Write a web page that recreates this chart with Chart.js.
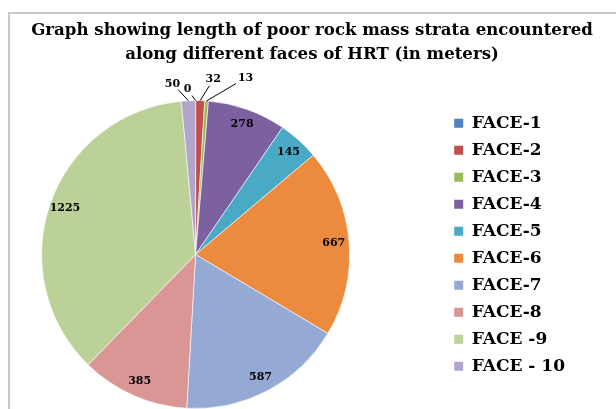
<!DOCTYPE html>
<html>
<head>
<meta charset="utf-8">
<script src="https://cdn.jsdelivr.net/npm/chart.js@4/dist/chart.umd.min.js"></script>
<style>
  html, body { margin: 0; padding: 0; background: #fff; overflow: hidden; }
  canvas { display: block; }
</style>
</head>
<body>
<canvas id="chart" width="616" height="409"></canvas>
<script>
// Faces of the head race tunnel and the poor rock mass length met at each (m)
const faces = ['FACE-1', 'FACE-2', 'FACE-3', 'FACE-4', 'FACE-5', 'FACE-6', 'FACE-7', 'FACE-8', 'FACE -9', 'FACE - 10'];
const lengths = [0, 32, 13, 278, 145, 667, 587, 385, 1225, 50];
const faceColors = ['#4f81bd', '#c0504d', '#9bbb59', '#7d60a0', '#4aa9c4', '#ec8b3d',
                    '#95a9d5', '#d99694', '#bcd197', '#b1a5cc'];
const titleLines = ['Graph showing length of poor rock mass strata encountered',
                    'along different faces of HRT (in meters)'];

// Thin slices get their value outside the pie with a leader line (offset of text from rim)
const calloutOffsets = { 0: [-8, -11], 1: [13, -21], 2: [39, -23], 9: [-16, -17] };

// Grey outline of the chart object (its right and bottom sides run off the page)
const chartFrame = {
  id: 'chartFrame',
  beforeDraw(chart, args, opts) {
    const ctx = chart.ctx;
    ctx.save();
    ctx.strokeStyle = opts.color;
    ctx.lineWidth = 2;
    ctx.beginPath();
    ctx.moveTo(opts.left, chart.height);
    ctx.lineTo(opts.left, opts.top);
    ctx.lineTo(chart.width, opts.top);
    ctx.stroke();
    ctx.restore();
  }
};

const sliceLabels = {
  id: 'sliceLabels',
  afterDatasetsDraw(chart, args, opts) {
    const ctx = chart.ctx;
    const meta = chart.getDatasetMeta(0);
    const values = chart.data.datasets[0].data;
    ctx.save();
    ctx.font = opts.font;
    ctx.fillStyle = '#000';
    ctx.strokeStyle = '#000';
    ctx.lineWidth = 1;
    ctx.textAlign = 'center';
    ctx.textBaseline = 'middle';
    meta.data.forEach((arc, i) => {
      const p = arc.getProps(['x', 'y', 'startAngle', 'endAngle', 'outerRadius'], true);
      const mid = (p.startAngle + p.endAngle) / 2;
      const text = String(values[i]);
      const off = opts.callouts[i];
      if (off) {
        const ax = p.x + Math.cos(mid) * p.outerRadius;
        const ay = p.y + Math.sin(mid) * p.outerRadius;
        const lx = ax + off[0], ly = ay + off[1];
        const hw = ctx.measureText(text).width / 2 + 2, hh = 6;
        const vx = ax - lx, vy = ay - ly;
        const t = Math.min(vx ? hw / Math.abs(vx) : Infinity, vy ? hh / Math.abs(vy) : Infinity);
        ctx.beginPath();
        ctx.moveTo(lx + vx * t, ly + vy * t);
        ctx.lineTo(ax, ay);
        ctx.stroke();
        ctx.fillText(text, lx, ly);
      } else {
        const r = p.outerRadius * opts.inset;
        ctx.fillText(text, p.x + Math.cos(mid) * r, p.y + Math.sin(mid) * r);
      }
    });
    ctx.restore();
  }
};

// Leaves a gutter between the plot area and the legend, and pulls the legend in
const plotGutter = {
  id: 'plotGutter',
  afterLayout(chart, args, opts) {
    const a = chart.chartArea;
    a.right -= opts.gap;
    a.width -= opts.gap;
    const lg = chart.legend;
    if (lg) {
      lg.left -= opts.legendShift;
      lg.right -= opts.legendShift;
    }
  }
};

const serif = "'DejaVu Serif', 'Liberation Serif', serif";

new Chart(document.getElementById('chart'), {
  type: 'pie',
  data: {
    labels: faces,
    datasets: [{
      data: lengths,
      backgroundColor: faceColors,
      borderColor: '#ffffff',
      borderWidth: 0.6,
      hoverOffset: 0,
      radius: 154
    }]
  },
  options: {
    responsive: false,
    animation: false,
    layout: { padding: { left: 22, right: 14, top: 0, bottom: 0 } },
    plugins: {
      title: {
        display: true,
        text: titleLines,
        color: '#000',
        font: { family: serif, size: 16.6, weight: 'bold', lineHeight: 1.48 },
        padding: { top: 18, bottom: 32.9 }
      },
      legend: {
        position: 'right',
        align: 'start',
        fullSize: false,
        title: { display: true, text: '', font: { size: 4 }, padding: 0 },
        labels: {
          color: '#000',
          font: { family: serif, size: 17, weight: 'bold' },
          boxWidth: 9,
          boxHeight: 9,
          padding: 10,
          generateLabels(chart) {
            return Chart.overrides.pie.plugins.legend.labels.generateLabels(chart)
              .map(item => Object.assign(item, { lineWidth: 0 }));
          }
        }
      },
      tooltip: { enabled: false },
      chartFrame: { left: 9, top: 13, color: '#c9c9c9' },
      plotGutter: { gap: 102, legendShift: 27 },
      sliceLabels: {
        font: "bold 11px 'DejaVu Serif', serif",
        inset: 0.9,
        callouts: calloutOffsets
      }
    }
  },
  plugins: [chartFrame, plotGutter, sliceLabels]
});
</script>
</body>
</html>
